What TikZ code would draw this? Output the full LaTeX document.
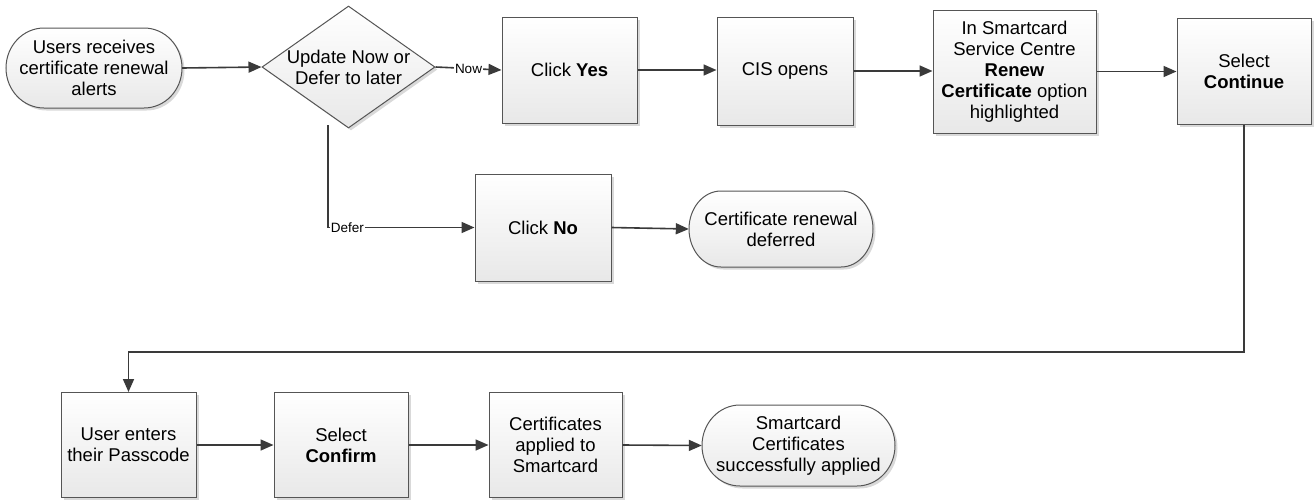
\documentclass[tikz,border=0pt]{standalone}
\usepackage{fontspec}
\setmainfont{Liberation Sans}
\usetikzlibrary{shapes.geometric,arrows.meta,shadows,calc}
\definecolor{linec}{HTML}{3A3A3A}
\definecolor{borderc}{HTML}{555555}
\tikzset{
  txt/.style={font=\fontsize{18.5}{21}\selectfont, align=center, text=black},
  base/.style={draw=borderc, line width=1pt, shading=axis, top color=white, bottom color=black!9,
    drop shadow={shadow xshift=2.5pt, shadow yshift=-2.5pt, fill=black!15, opacity=1}},
  procbox/.style={base, txt, rectangle, inner sep=2pt},
  termtext/.style={txt, rectangle, inner sep=0pt},
  decision/.style={base, diamond, inner sep=0pt, minimum width=173pt, minimum height=122pt},
  flow/.style={draw=linec, line width=1.6pt, -{Triangle[length=13pt,width=11pt]}},
  elabel/.style={font=\fontsize{13.5}{15}\selectfont, fill=white, inner sep=1pt, text=black}
}
% #1 name, #2 x, #3 y, #4 width, #5 height, #6 end x-radius, #7 text
\newcommand{\termnode}[7]{%
  \pgfmathsetmacro{\tmhw}{#4/2}%
  \pgfmathsetmacro{\tmhh}{#5/2}%
  \pgfmathsetmacro{\tmfx}{#4/2-#6}%
  \begin{scope}[shift={(#2,#3)}]
    \path[base] (-\tmfx,-\tmhh) -- (\tmfx,-\tmhh)
      arc[start angle=-90, end angle=90, x radius=#6, y radius=\tmhh]
      -- (-\tmfx,\tmhh)
      arc[start angle=90, end angle=270, x radius=#6, y radius=\tmhh] -- cycle;
  \end{scope}
  \node[termtext, minimum width=#4pt, minimum height=#5pt] (#1) at (#2,#3) {#7};
}
\begin{document}
\begin{tikzpicture}[x=1pt,y=-1pt]
\useasboundingbox (0,0) rectangle (1315,499);
% top row
\termnode{start}{94}{68}{176}{80}{38}{Users receives\\certificate renewal\\alerts}
\node[decision, label={[txt]center:Update Now or\\Defer to later}] (dec) at (348.5,67) {};
\node[procbox, minimum width=135pt, minimum height=106pt] (yes) at (569.5,70) {Click \textbf{Yes}};
\node[procbox, minimum width=136pt, minimum height=108pt] (cis) at (785,71) {CIS opens};
\node[procbox, minimum width=163pt, minimum height=123pt] (renew) at (1014.5,71.5) {In Smartcard\\Service Centre\\\textbf{Renew}\\\textbf{Certificate} option\\highlighted};
\node[procbox, minimum width=134pt, minimum height=106pt] (cont) at (1244,71) {Select\\\textbf{Continue}};
% defer row
\node[procbox, minimum width=136pt, minimum height=107pt] (no) at (543,227.5) {Click \textbf{No}};
\termnode{deferred}{781}{229}{184}{76}{32}{Certificate renewal\\deferred}
% bottom row
\node[procbox, minimum width=135pt, minimum height=105pt] (pass) at (128.5,445) {User enters\\their Passcode};
\node[procbox, minimum width=134pt, minimum height=105pt] (confirm) at (341,445) {Select\\\textbf{Confirm}};
\node[procbox, minimum width=133pt, minimum height=105pt] (applied) at (555.5,445) {Certificates\\applied to\\Smartcard};
\termnode{done}{798.5}{445.5}{193}{81}{38}{Smartcard\\Certificates\\successfully applied}
% connectors
\coordinate (dfr) at (328,125);
\coordinate (turn) at (0,352);
\draw[flow] (start.east) -- (dec.west);
\draw[flow] (dec.east) -- node[elabel] {Now} (yes.west);
\draw[flow] (yes.east) -- (cis.west |- yes.east);
\draw[flow] (cis.east) -- (renew.west |- cis.east);
\draw[flow] (renew.east) -- (cont.west |- renew.east);
\draw[flow] (dfr) |- node[elabel, pos=0.5, anchor=west, xshift=1pt] {Defer} (no.west);
\draw[flow] (no.east) -- (deferred.west);
\draw[flow] (cont.south) -- (cont.south |- turn) -| (pass.north);
\draw[flow] (pass.east) -- (confirm.west);
\draw[flow] (confirm.east) -- (applied.west);
\draw[flow] (applied.east) -- (done.west);
\end{tikzpicture}
\end{document}
